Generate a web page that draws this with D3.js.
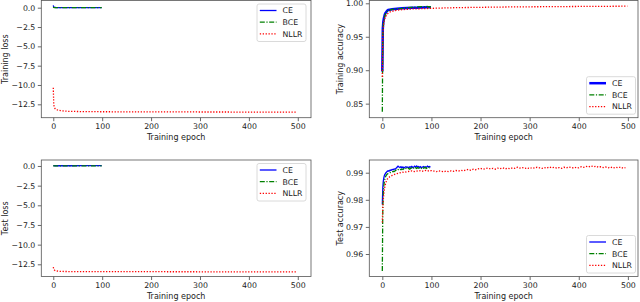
<!DOCTYPE html>
<html>
<head>
<meta charset="utf-8">
<script src="https://cdn.jsdelivr.net/npm/d3@7/dist/d3.min.js"></script>
<style>
  body { margin: 0; background: #fff; }
  text { font-family: "DejaVu Sans", sans-serif; fill: #222; }
</style>
</head>
<body>
<svg id="fig" width="640" height="302"></svg>
<script>
// ---- epochs (x grids) ----
const lossShortEpochs = [0, 1, 2, 3, 5, 10, 20, 40, 60, 80, 99];
const lossLongEpochs = [0, 1, 2, 3, 4, 5, 7, 10, 15, 20, 30, 50, 100, 200, 300, 400, 499];
const trainShortEpochs = [0, 1, 2, 3, 4, 5, 6, 8, 10, 12, 15, 20, 25, 30, 40, 50, 60, 70, 80, 90, 99];
const trainLongEpochs = [0, 1, 2, 3, 4, 5, 6, 8, 10, 12, 15, 20, 25, 30, 40, 50, 60, 80, 100, 150, 200, 250, 300, 350, 400, 450, 499];
const testShortEpochs = d3.range(0, 10).concat(d3.range(10, 100, 2));
const testLongEpochs = d3.range(0, 10).concat(d3.range(10, 500, 5));

// ---- training loss ----
const trainLossCE = [0.31, 0.06, 0.04, 0.03, 0.025, 0.02, 0.015, 0.01, 0.008, 0.006, 0.005];
const trainLossBCE = [0.12, 0.03, 0.02, 0.015, 0.012, 0.01, 0.008, 0.006, 0.005, 0.004, 0.003];
const trainLossNLLR = [-10.35, -12.55, -12.85, -13.0, -13.08, -13.13, -13.2, -13.26, -13.32, -13.36,
  -13.4, -13.43, -13.46, -13.48, -13.49, -13.5, -13.5];

// ---- test loss ----
const testLossCE = [0.05, 0.04, 0.035, 0.03, 0.03, 0.03, 0.03, 0.03, 0.035, 0.04, 0.04];
const testLossBCE = [0.03, 0.02, 0.018, 0.016, 0.015, 0.015, 0.015, 0.016, 0.017, 0.018, 0.02];
const testLossNLLR = [-12.85, -13.1, -13.2, -13.26, -13.3, -13.32, -13.35, -13.38, -13.4, -13.41,
  -13.42, -13.43, -13.44, -13.44, -13.45, -13.45, -13.45];

// ---- training accuracy ----
const trainAccCE = [0.898, 0.962, 0.972, 0.977, 0.980, 0.983, 0.985, 0.987, 0.989, 0.990, 0.9905,
  0.991, 0.9915, 0.992, 0.9925, 0.993, 0.9932, 0.9935, 0.9937, 0.994, 0.994];
const trainAccBCE = [0.838, 0.955, 0.968, 0.974, 0.978, 0.981, 0.983, 0.986, 0.988, 0.989, 0.990,
  0.991, 0.9915, 0.992, 0.9925, 0.9935, 0.994, 0.9945, 0.995, 0.9952, 0.9945];
const trainAccNLLR = [0.890, 0.950, 0.963, 0.970, 0.974, 0.977, 0.979, 0.982, 0.984, 0.985, 0.987,
  0.988, 0.989, 0.9898, 0.9905, 0.991, 0.9915, 0.992, 0.9925, 0.9935, 0.994, 0.9945, 0.9948,
  0.995, 0.9953, 0.9955, 0.9957];

// ---- test accuracy ----
const testAccCE = [0.9783, 0.9845, 0.9868, 0.9880, 0.9888, 0.9893, 0.9896, 0.9899, 0.9901, 0.9903,
  0.9905, 0.9907, 0.9906, 0.9910, 0.9909, 0.9912, 0.9911, 0.9914, 0.9913, 0.9916,
  0.9920, 0.9924, 0.9921, 0.9919, 0.9922, 0.9918, 0.9921, 0.9917, 0.9920, 0.9922,
  0.9919, 0.9921, 0.9918, 0.9922, 0.9920, 0.9923, 0.9919, 0.9921, 0.9924, 0.9920,
  0.9925, 0.9921, 0.9923, 0.9919, 0.9922, 0.9918, 0.9921, 0.9923, 0.9919, 0.9922,
  0.9920, 0.9924, 0.9921, 0.9923, 0.9920];
const testAccBCE = [0.9537, 0.9770, 0.9825, 0.9850, 0.9865, 0.9875, 0.9882, 0.9887, 0.9890, 0.9893,
  0.9895, 0.9897, 0.9899, 0.9901, 0.9900, 0.9903, 0.9905, 0.9904, 0.9907, 0.9909,
  0.9908, 0.9912, 0.9910, 0.9913, 0.9911, 0.9914, 0.9912, 0.9915, 0.9913, 0.9916,
  0.9914, 0.9917, 0.9915, 0.9913, 0.9916, 0.9918, 0.9915, 0.9917, 0.9914, 0.9918,
  0.9916, 0.9919, 0.9917, 0.9915, 0.9918, 0.9916, 0.9919, 0.9917, 0.9920, 0.9918,
  0.9916, 0.9919, 0.9921, 0.9918, 0.9920];
const testAccNLLR = [0.9716, 0.9775, 0.9800, 0.9820, 0.9835, 0.9847, 0.9855, 0.9862, 0.9868, 0.9872,
  0.9876, 0.9885, 0.9890, 0.9894, 0.9897, 0.9899, 0.9902, 0.9901, 0.9904, 0.9905,
  0.9907, 0.9904, 0.9906, 0.9908, 0.9905, 0.9907, 0.9909, 0.9906, 0.9908, 0.9906,
  0.9904, 0.9907, 0.9905, 0.9903, 0.9906, 0.9904, 0.9907, 0.9905, 0.9908, 0.9906,
  0.9909, 0.9907, 0.9910, 0.9912, 0.9909, 0.9913, 0.9911, 0.9914, 0.9916, 0.9913,
  0.9915, 0.9917, 0.9914, 0.9916, 0.9913, 0.9917, 0.9915, 0.9918, 0.9914, 0.9917,
  0.9915, 0.9918, 0.9916, 0.9920, 0.9917, 0.9919, 0.9916, 0.9918, 0.9915, 0.9919,
  0.9917, 0.9920, 0.9918, 0.9916, 0.9919, 0.9917, 0.9921, 0.9918, 0.9920, 0.9917,
  0.9919, 0.9916, 0.9920, 0.9918, 0.9921, 0.9919, 0.9917, 0.9920, 0.9918, 0.9922,
  0.9920, 0.9923, 0.9921, 0.9925, 0.9922, 0.9924, 0.9920, 0.9922, 0.9919, 0.9921,
  0.9918, 0.9921, 0.9917, 0.9920, 0.9918, 0.9921, 0.9917, 0.9919];

// ---- ticks / labels ----
const xTicks = [0, 100, 200, 300, 400, 500];
const lossTicks = [0, -2.5, -5, -7.5, -10, -12.5];
const trainAccTicks = [0.85, 0.90, 0.95, 1.00];
const testAccTicks = [0.96, 0.97, 0.98, 0.99];
const seriesNames = ['CE', 'BCE', 'NLLR'];

const styles = {
  CE:   { color: '#0000ff', dash: null },
  BCE:  { color: '#008000', dash: '5,1.6,1.2,1.6' },
  NLLR: { color: '#ff0000', dash: '1.3,1.6' }
};

const panels = [
  { box: [41.3, 0.5, 311, 117.7], xDomain: [-24.5, 527], yDomain: [-14.23, 0.93], labelGap: 33.5,
    yTicks: lossTicks, fmt: '.1f', ylabel: 'Training loss', legend: 'upper',
    series: [[lossShortEpochs, trainLossCE], [lossShortEpochs, trainLossBCE], [lossLongEpochs, trainLossNLLR]] },
  { box: [369.3, 0.5, 638, 117.7], xDomain: [-26.5, 520.6], yDomain: [0.829, 1.0042], labelGap: 26.5,
    yTicks: trainAccTicks, fmt: '.2f', ylabel: 'Training accuracy', legend: 'lower', ceWidth: 2.5,
    series: [[trainShortEpochs, trainAccCE], [trainShortEpochs, trainAccBCE], [trainLongEpochs, trainAccNLLR]] },
  { box: [41.3, 160, 311, 276.5], xDomain: [-24.5, 527], yDomain: [-14.05, 0.76], labelGap: 33.5,
    yTicks: lossTicks, fmt: '.1f', ylabel: 'Test loss', legend: 'upper',
    series: [[lossShortEpochs, testLossCE], [lossShortEpochs, testLossBCE], [lossLongEpochs, testLossNLLR]] },
  { box: [369.3, 160, 638, 276.5], xDomain: [-26.5, 520.6], yDomain: [0.9517, 0.99469], labelGap: 26.5,
    yTicks: testAccTicks, fmt: '.2f', ylabel: 'Test accuracy', legend: 'lower',
    series: [[testShortEpochs, testAccCE], [testShortEpochs, testAccBCE], [testLongEpochs, testAccNLLR]] }
];

const svg = d3.select('#fig');

panels.forEach((p, i) => {
  const [x0, y0, x1, y1] = p.box;
  const x = d3.scaleLinear().domain(p.xDomain).range([x0, x1]);
  const y = d3.scaleLinear().domain(p.yDomain).range([y1, y0]);
  const g = svg.append('g');

  g.append('clipPath').attr('id', 'clip' + i)
    .append('rect').attr('x', x0).attr('y', y0).attr('width', x1 - x0).attr('height', y1 - y0);

  // curves
  const line = d3.line().x(d => x(d[0])).y(d => y(d[1]));
  p.series.forEach((s, k) => {
    const name = seriesNames[k];
    const pts = s[0].map((e, j) => [e, s[1][j]]);
    g.append('path')
      .attr('clip-path', `url(#clip${i})`)
      .attr('d', line(pts))
      .attr('fill', 'none')
      .attr('stroke', styles[name].color)
      .attr('stroke-width', name === 'CE' && p.ceWidth ? p.ceWidth : 1.3)
      .attr('stroke-dasharray', styles[name].dash);
  });

  // axes
  const xAxis = g.append('g').attr('transform', `translate(0,${y1})`)
    .call(d3.axisBottom(x).tickValues(xTicks).tickFormat(d3.format('d')).tickSize(3.5).tickPadding(2.5));
  const yAxis = g.append('g').attr('transform', `translate(${x0},0)`)
    .call(d3.axisLeft(y).tickValues(p.yTicks).tickFormat(d3.format(p.fmt)).tickSize(3.5).tickPadding(2.5));
  [xAxis, yAxis].forEach(a => {
    a.select('.domain').remove();
    a.selectAll('.tick line').attr('stroke', '#444').attr('stroke-width', 0.8);
    a.selectAll('.tick text').attr('font-size', 7.8).attr('font-family', '"DejaVu Sans", sans-serif').attr('fill', '#222');
  });

  // frame
  g.append('rect').attr('x', x0).attr('y', y0).attr('width', x1 - x0).attr('height', y1 - y0)
    .attr('fill', 'none').attr('stroke', '#555').attr('stroke-width', 0.8);

  // labels
  g.append('text').attr('x', (x0 + x1) / 2).attr('y', y1 + 22.5)
    .attr('text-anchor', 'middle').attr('font-size', 8).text('Training epoch');
  const lx = x0 - p.labelGap;
  g.append('text').attr('transform', `translate(${lx},${(y0 + y1) / 2}) rotate(-90)`)
    .attr('text-anchor', 'middle').attr('font-size', 8).text(p.ylabel);

  // legend
  const lw = 49, lh = 37.5;
  const lgx = p.legend === 'upper' ? x1 - 5 - lw : x1 - 2.5 - lw;
  const lgy = p.legend === 'upper' ? y0 + 3.5 : y1 - 3.5 - lh;
  const lg = g.append('g').attr('transform', `translate(${lgx},${lgy})`);
  lg.append('rect').attr('width', lw).attr('height', lh).attr('rx', 2)
    .attr('fill', '#fff').attr('fill-opacity', 0.85).attr('stroke', '#d0d0d0').attr('stroke-width', 0.8);
  seriesNames.forEach((name, k) => {
    const ey = 6.5 + k * 11.7;
    lg.append('line').attr('x1', 2.8).attr('x2', 19.5).attr('y1', ey).attr('y2', ey)
      .attr('stroke', styles[name].color)
      .attr('stroke-width', name === 'CE' && p.ceWidth ? p.ceWidth : 1.3)
      .attr('stroke-dasharray', styles[name].dash);
    lg.append('text').attr('x', 25.5).attr('y', ey + 2.8).attr('font-size', 7.8).text(name);
  });
});
</script>
</body>
</html>
